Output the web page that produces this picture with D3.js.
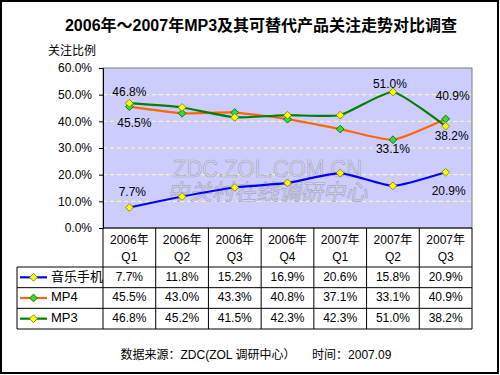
<!DOCTYPE html>
<html>
<head>
<meta charset="utf-8">
<script src="https://cdn.jsdelivr.net/npm/d3@7"></script>
<style>
  body { margin: 0; background: #fff; }
  text { font-family: "Liberation Sans", Arial, "Noto Sans CJK SC", sans-serif; }
</style>
</head>
<body>
<div id="chart"></div>
<script>
// Datos
const categorias = ["2006年|Q1", "2006年|Q2", "2006年|Q3", "2006年|Q4", "2007年|Q1", "2007年|Q2", "2007年|Q3"]
const musicaMovil = [7.7, 11.8, 15.2, 16.9, 20.6, 15.8, 20.9]
const mp4 = [45.5, 43.0, 43.3, 40.8, 37.1, 33.1, 40.9]
const mp3 = [46.8, 45.2, 41.5, 42.3, 42.3, 51.0, 38.2]
const yTicks = [0, 10, 20, 30, 40, 50, 60]

const series = [
    { nombre: "音乐手机", valores: musicaMovil, color: "#0000ff", marcador: "#ffff00", borde: "#808000" },
    { nombre: "MP4", valores: mp4, color: "#ff6600", marcador: "#33dd33", borde: "#006600" },
    { nombre: "MP3", valores: mp3, color: "#008000", marcador: "#ffff00", borde: "#808000" }
]

// etiquetas de datos (serie, indice, desplazamiento del texto)
const etiquetas = [
    { s: 2, i: 0, dx: 0, dy: -10 },
    { s: 1, i: 0, dx: 5, dy: 17 },
    { s: 0, i: 0, dx: 3, dy: -15 },
    { s: 2, i: 5, dx: -3, dy: -7 },
    { s: 1, i: 5, dx: 0, dy: 10 },
    { s: 1, i: 6, dx: 7, dy: -22 },
    { s: 2, i: 6, dx: 6, dy: 11 },
    { s: 0, i: 6, dx: 3, dy: 20 }
]

const W = 500, H = 375
const plot = { left: 103, right: 472, top: 68, bottom: 228 }
const tabla = { left: 17, top: 267, bottom: 329 }

const SVG = d3.select("#chart").append("svg")
    .attr("width", W)
    .attr("height", H)

// marco exterior
SVG.append("rect")
    .attr("x", 1).attr("y", 1)
    .attr("width", W - 3).attr("height", H - 3)
    .attr("fill", "#fff")
    .attr("stroke", "#000")
    .attr("stroke-width", 2)

// titulo
SVG.append("text")
    .attr("x", 261).attr("y", 31)
    .attr("text-anchor", "middle")
    .style("font-size", "16px")
    .style("font-weight", "bold")
    .text("2006年～2007年MP3及其可替代产品关注走势对比调查")

SVG.append("text")
    .attr("x", 48).attr("y", 55)
    .style("font-size", "12px")
    .text("关注比例")

// escalas
const escalaX = d3.scaleBand()
    .domain(categorias)
    .range([plot.left, plot.right])

const escalaY = d3.scaleLinear()
    .domain([0, 60])
    .range([plot.bottom, plot.top])

const cx = c => escalaX(c) + escalaX.bandwidth() / 2

// fondo del area
SVG.append("rect")
    .attr("x", plot.left).attr("y", plot.top)
    .attr("width", plot.right - plot.left)
    .attr("height", plot.bottom - plot.top)
    .attr("fill", "#ccccff")
    .attr("stroke", "#808080")

// grilla
SVG.selectAll(".grid")
    .data(yTicks.filter(d => d > 0 && d < 60))
    .join("line")
    .attr("class", "grid")
    .attr("x1", plot.left).attr("x2", plot.right)
    .attr("y1", d => escalaY(d)).attr("y2", d => escalaY(d))
    .attr("stroke", "#ffffa0")
    .attr("stroke-dasharray", "4,3")

// marca de agua
const marca = SVG.append("g")
    .attr("fill", "#d6d6f0")
    .attr("stroke", "#a8a8bc")
    .attr("stroke-width", 0.7)
marca.append("text")
    .attr("x", 173).attr("y", 177)
    .attr("textLength", 189)
    .attr("lengthAdjust", "spacingAndGlyphs")
    .style("font-size", "23px")
    .text("ZDC.ZOL.COM.CN")
marca.append("text")
    .attr("x", 168).attr("y", 200)
    .attr("textLength", 200)
    .attr("lengthAdjust", "spacingAndGlyphs")
    .attr("transform", "skewX(-10) translate(35,0)")
    .style("font-size", "22px")
    .text("中关村在线调研中心")

// eje Y
const ejeY = d3.axisLeft(escalaY)
    .tickValues(yTicks)
    .tickSize(4)
    .tickPadding(7)
    .tickFormat(d => d.toFixed(1) + "%")

SVG.append("g")
    .attr("transform", `translate(${plot.left},0)`)
    .call(ejeY)
    .call(g => g.select(".domain").attr("stroke", "#000"))
    .call(g => g.selectAll("text").style("font-size", "12px").attr("fill", "#000"))

// eje X (linea inferior)
SVG.append("line")
    .attr("x1", plot.left).attr("x2", plot.right)
    .attr("y1", plot.bottom).attr("y2", plot.bottom)
    .attr("stroke", "#000")

// lineas
const linea = d3.line()
    .x((d, i) => cx(categorias[i]))
    .y(d => escalaY(d))
    .curve(d3.curveCardinal.tension(0.5))

const simbolo = d3.symbol().type(d3.symbolSquare).size(30)

series.forEach(s => {
    SVG.append("path")
        .attr("d", linea(s.valores))
        .attr("fill", "none")
        .attr("stroke", s.color)
        .attr("stroke-width", 2.2)
})

series.forEach(s => {
    SVG.selectAll(null)
        .data(s.valores)
        .join("path")
        .attr("d", simbolo)
        .attr("transform", (d, i) => `translate(${cx(categorias[i])},${escalaY(d)}) rotate(45)`)
        .attr("fill", s.marcador)
        .attr("stroke", s.borde)
        .attr("stroke-width", 0.8)
})

// etiquetas de datos
SVG.selectAll(".etiqueta")
    .data(etiquetas)
    .join("text")
    .attr("class", "etiqueta")
    .attr("x", d => cx(categorias[d.i]) + d.dx)
    .attr("y", d => escalaY(series[d.s].valores[d.i]) + d.dy)
    .attr("text-anchor", "middle")
    .attr("dominant-baseline", "middle")
    .style("font-size", "12px")
    .text(d => series[d.s].valores[d.i].toFixed(1) + "%")

// tabla de datos
const filas = d3.scaleBand()
    .domain(series.map(s => s.nombre))
    .range([tabla.top, tabla.bottom])

const bordes = SVG.append("g").attr("stroke", "#000").attr("stroke-width", 1)

// lineas horizontales
bordes.selectAll(null)
    .data([tabla.top, ...series.map(s => filas(s.nombre) + filas.bandwidth())])
    .join("line")
    .attr("x1", tabla.left).attr("x2", plot.right)
    .attr("y1", d => d).attr("y2", d => d)

// lineas verticales
bordes.selectAll(null)
    .data([...categorias.map(c => escalaX(c)), plot.right])
    .join("line")
    .attr("x1", d => d).attr("x2", d => d)
    .attr("y1", plot.bottom).attr("y2", tabla.bottom)

bordes.append("line")
    .attr("x1", tabla.left).attr("x2", tabla.left)
    .attr("y1", tabla.top).attr("y2", tabla.bottom)

// encabezados de columnas
const encabezados = SVG.selectAll(".cat")
    .data(categorias)
    .join("text")
    .attr("class", "cat")
    .attr("text-anchor", "middle")
    .style("font-size", "12px")

encabezados.append("tspan")
    .attr("x", d => cx(d))
    .attr("y", 244)
    .text(d => d.split("|")[0])
encabezados.append("tspan")
    .attr("x", d => cx(d))
    .attr("y", 261)
    .text(d => d.split("|")[1])

// filas de la tabla
series.forEach(s => {
    const yc = filas(s.nombre) + filas.bandwidth() / 2

    SVG.append("line")
        .attr("x1", 20).attr("x2", 47)
        .attr("y1", yc).attr("y2", yc)
        .attr("stroke", s.color)
        .attr("stroke-width", 2.2)
    SVG.append("path")
        .attr("d", simbolo)
        .attr("transform", `translate(33.5,${yc}) rotate(45)`)
        .attr("fill", s.marcador)
        .attr("stroke", s.borde)
        .attr("stroke-width", 0.8)
    SVG.append("text")
        .attr("x", 51).attr("y", yc)
        .attr("dominant-baseline", "middle")
        .style("font-size", "13px")
        .text(s.nombre)

    SVG.selectAll(null)
        .data(s.valores)
        .join("text")
        .attr("x", (d, i) => cx(categorias[i]))
        .attr("y", yc)
        .attr("text-anchor", "middle")
        .attr("dominant-baseline", "middle")
        .style("font-size", "12px")
        .text(d => d.toFixed(1) + "%")
})

// fuente
SVG.append("text")
    .attr("x", 256).attr("y", 359)
    .attr("text-anchor", "middle")
    .style("font-size", "12px")
    .attr("xml:space", "preserve")
    .text("数据来源：ZDC(ZOL 调研中心）     时间：2007.09")
</script>
</body>
</html>
